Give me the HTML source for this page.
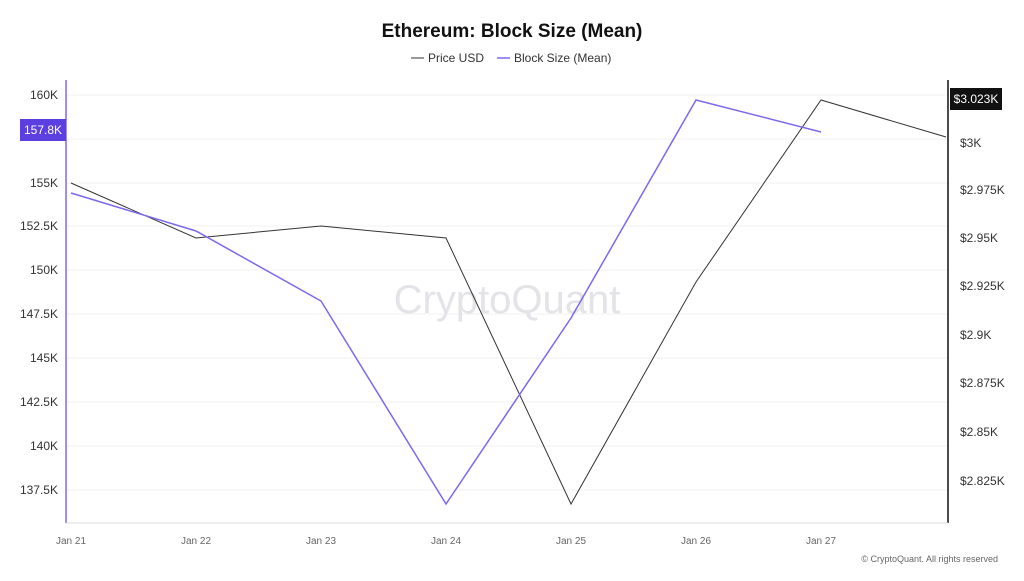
<!DOCTYPE html>
<html><head><meta charset="utf-8"><style>
body{margin:0;background:#fff;font-family:"Liberation Sans",sans-serif;}
</style></head><body>
<svg width="1024" height="576" xmlns="http://www.w3.org/2000/svg" font-family="Liberation Sans, sans-serif">
<rect width="1024" height="576" fill="#fff"/>
<text x="512" y="37" text-anchor="middle" font-size="19" font-weight="bold" fill="#111">Ethereum: Block Size (Mean)</text>
<line x1="411" y1="58" x2="424" y2="58" stroke="#333" stroke-width="1"/>
<text x="428" y="62" font-size="12" fill="#333">Price USD</text>
<line x1="497" y1="58" x2="510" y2="58" stroke="#7b68ee" stroke-width="1.5"/>
<text x="514" y="62" font-size="12" fill="#333">Block Size (Mean)</text>
<g stroke="#f2f2f2" stroke-width="1">
<line x1="66" y1="95" x2="948" y2="95"/><line x1="66" y1="139" x2="948" y2="139"/>
<line x1="66" y1="183" x2="948" y2="183"/><line x1="66" y1="226" x2="948" y2="226"/>
<line x1="66" y1="270" x2="948" y2="270"/><line x1="66" y1="314" x2="948" y2="314"/>
<line x1="66" y1="358" x2="948" y2="358"/><line x1="66" y1="402" x2="948" y2="402"/>
<line x1="66" y1="446" x2="948" y2="446"/><line x1="66" y1="490" x2="948" y2="490"/>
</g>
<text x="507" y="313" text-anchor="middle" font-size="40" fill="#e3e3e8">CryptoQuant</text>
<line x1="66" y1="80" x2="66" y2="523" stroke="#7b68ee" stroke-width="1.5"/>
<line x1="948" y1="80" x2="948" y2="523" stroke="#111" stroke-width="1.5"/>
<line x1="66" y1="523" x2="948" y2="523" stroke="#ddd"/>
<g font-size="12" fill="#333" text-anchor="end">
<text x="58" y="99">160K</text><text x="58" y="187">155K</text><text x="58" y="230">152.5K</text>
<text x="58" y="274">150K</text><text x="58" y="318">147.5K</text><text x="58" y="362">145K</text>
<text x="58" y="406">142.5K</text><text x="58" y="450">140K</text><text x="58" y="494">137.5K</text>
</g>
<rect x="20" y="119" width="46" height="22" fill="#5b3fe0"/>
<text x="43" y="134" text-anchor="middle" font-size="12" fill="#fff">157.8K</text>
<g font-size="12" fill="#333">
<text x="960" y="147">$3K</text><text x="960" y="194">$2.975K</text><text x="960" y="242">$2.95K</text>
<text x="960" y="290">$2.925K</text><text x="960" y="339">$2.9K</text><text x="960" y="387">$2.875K</text>
<text x="960" y="436">$2.85K</text><text x="960" y="485">$2.825K</text>
</g>
<rect x="950" y="88" width="52" height="22" fill="#111"/>
<text x="976" y="103" text-anchor="middle" font-size="12" fill="#fff">$3.023K</text>
<g font-size="10" fill="#666" text-anchor="middle">
<text x="71" y="544">Jan 21</text><text x="196" y="544">Jan 22</text><text x="321" y="544">Jan 23</text>
<text x="446" y="544">Jan 24</text><text x="571" y="544">Jan 25</text><text x="696" y="544">Jan 26</text>
<text x="821" y="544">Jan 27</text>
</g>
<polyline fill="none" stroke="#333" stroke-width="1" points="71,183 196,238 321,226 446,238 571,504 696,282 821,100 946,137"/>
<polyline fill="none" stroke="#7b68ee" stroke-width="1.5" points="71,193 196,231 321,301 446,504 571,318 696,100 821,132"/>
<text x="998" y="562" text-anchor="end" font-size="9" fill="#666">© CryptoQuant. All rights reserved</text>
</svg>
</body></html>
